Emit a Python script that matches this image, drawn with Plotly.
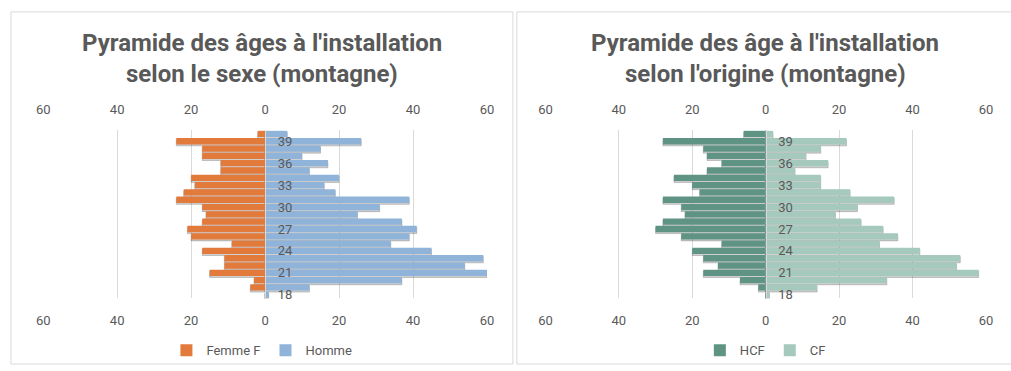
import plotly.graph_objects as go

# Ages at installation (category axis)
ages = list(range(18, 41))
age_ticks = [18, 21, 24, 27, 30, 33, 36, 39]

# Counts by sex (mountain area), ages 18..40
femme = [0, 4, 3, 15, 11, 11, 17, 9, 20, 21, 17, 16, 17, 24, 22, 19, 20, 12, 12, 17, 17, 24, 2]
homme = [1, 12, 37, 60, 54, 59, 45, 34, 39, 41, 37, 25, 31, 39, 19, 16, 20, 12, 17, 10, 15, 26, 6]

# Counts by origin (mountain area), ages 18..40
hcf = [0, 2, 7, 17, 13, 17, 20, 12, 23, 30, 28, 22, 23, 28, 18, 20, 25, 16, 12, 16, 17, 28, 6]
cf = [1, 14, 33, 58, 52, 53, 42, 31, 36, 32, 26, 19, 25, 35, 23, 15, 15, 8, 17, 11, 15, 22, 2]

x_ticks = [-60, -40, -20, 0, 20, 40, 60]
x_ticktext = [str(abs(v)) for v in x_ticks]

titles = ["Pyramide des âges à l'installation", "selon le sexe (montagne)",
          "Pyramide des âge à l'installation", "selon l'origine (montagne)"]

W, H = 1011, 371
GREY = "#595959"
GRID = "#D9D9D9"
FONT = "Roboto, Liberation Sans, sans-serif"

C_FEMME = "#E27A3C"
C_HOMME = "#8FB3D9"
C_HCF = "#5F9485"
C_CF = "#A5C9BD"
SHADOW = "rgba(40,40,40,0.22)"

BAR_W = 0.86

left_dom = [36.7 / W, 486.7 / W]
right_dom = [546.0 / W, 992.7 / W]
y_dom = [1 - 301.7 / H, 1 - 131.7 / H]

fig = go.Figure()

series = [
    ("Femme F", femme, -1, C_FEMME, "x", "y", "legend"),
    ("Homme", homme, 1, C_HOMME, "x", "y", "legend"),
    ("HCF", hcf, -1, C_HCF, "x2", "y2", "legend2"),
    ("CF", cf, 1, C_CF, "x2", "y2", "legend2"),
]

# soft drop shadow under each bar, slightly lower than the bar itself
for name, vals, sign, color, xa, ya, lg in series:
    fig.add_trace(go.Bar(y=ages, x=[sign * v for v in vals], orientation="h",
                         width=BAR_W, offset=-BAR_W / 2 - 0.2,
                         marker=dict(color=SHADOW, line=dict(color=SHADOW, width=1)),
                         showlegend=False, hoverinfo="skip", xaxis=xa, yaxis=ya))

for name, vals, sign, color, xa, ya, lg in series:
    fig.add_trace(go.Bar(y=ages, x=[sign * v for v in vals], customdata=vals, orientation="h",
                         width=BAR_W, name=name, marker=dict(color=color, line=dict(width=0)),
                         hovertemplate="%{y}: %{customdata}<extra>" + name + "</extra>",
                         xaxis=xa, yaxis=ya, legend=lg))

# empty traces so the top value axes and the centred age axes get drawn
fig.add_trace(go.Scatter(x=[None], y=[None], xaxis="x3", yaxis="y3", showlegend=False, hoverinfo="skip"))
fig.add_trace(go.Scatter(x=[None], y=[None], xaxis="x4", yaxis="y4", showlegend=False, hoverinfo="skip"))

tickfont = dict(family=FONT, size=13, color=GREY)

def value_axis(dom, anchor, side, grid, overlay=None):
    ax = dict(domain=dom, range=[-60, 60], tickvals=x_ticks, ticktext=x_ticktext,
              side=side, anchor=anchor, showgrid=grid, gridcolor=GRID, gridwidth=1,
              zeroline=False, showline=False, ticks="outside", ticklen=10,
              tickcolor="rgba(0,0,0,0)", tickfont=tickfont, fixedrange=True)
    if overlay:
        ax["overlaying"] = overlay
    return ax

def bar_axis(anchor_x):
    return dict(domain=y_dom, range=[17.5, 40.5], anchor=anchor_x, showticklabels=False,
                showgrid=False, zeroline=False, showline=False, ticks="", fixedrange=True)

def age_axis(dom_x, overlay):
    return dict(domain=y_dom, range=[17.5, 40.5], tickvals=age_ticks, overlaying=overlay,
                anchor="free", position=(dom_x[0] + dom_x[1]) / 2, side="right",
                ticks="outside", ticklen=9, tickcolor="rgba(0,0,0,0)", tickfont=tickfont,
                showline=True, linecolor=GRID, linewidth=1, layer="above traces",
                showgrid=False, zeroline=False, fixedrange=True)

fig.update_layout(
    width=W, height=H, margin=dict(l=0, r=0, t=0, b=0),
    paper_bgcolor="white", plot_bgcolor="white",
    barmode="overlay",
    font=dict(family=FONT, color=GREY),
    xaxis=value_axis(left_dom, "y", "bottom", True),
    xaxis3=value_axis(left_dom, "y", "top", False, overlay="x"),
    xaxis2=value_axis(right_dom, "y2", "bottom", True),
    xaxis4=value_axis(right_dom, "y2", "top", False, overlay="x2"),
    yaxis=bar_axis("x"),
    yaxis2=bar_axis("x2"),
    yaxis3=age_axis(left_dom, "y"),
    yaxis4=age_axis(right_dom, "y2"),
    legend=dict(orientation="h", x=(4 + 513) / 2 / W, xanchor="center",
                y=1 - 354 / H, yanchor="middle", font=dict(family=FONT, size=13, color=GREY),
                itemwidth=30, bgcolor="rgba(0,0,0,0)"),
    legend2=dict(orientation="h", x=(517 + 1021) / 2 / W, xanchor="center",
                 y=1 - 354 / H, yanchor="middle", font=dict(family=FONT, size=13, color=GREY),
                 itemwidth=30, bgcolor="rgba(0,0,0,0)"),
)

# panel frames
fig.add_shape(type="rect", xref="paper", yref="paper", x0=4 / W, x1=513 / W,
              y0=1 - 368 / H, y1=1 - 12 / H, line=dict(color=GRID, width=1), layer="below")
fig.add_shape(type="rect", xref="paper", yref="paper", x0=517 / W, x1=1.02,
              y0=1 - 368 / H, y1=1 - 12 / H, line=dict(color=GRID, width=1), layer="below")

# two-line chart titles
title_font = dict(family=FONT, size=24, color=GREY, weight=700)
for i, cx in enumerate([(4 + 513) / 2 / W, (517 + 1021) / 2 / W]):
    for j, ypx in enumerate([43, 75]):
        fig.add_annotation(text=titles[2 * i + j], x=cx, y=1 - ypx / H, xref="paper", yref="paper",
                           xanchor="center", yanchor="middle", showarrow=False, font=title_font)

fig.write_html("out.html")
